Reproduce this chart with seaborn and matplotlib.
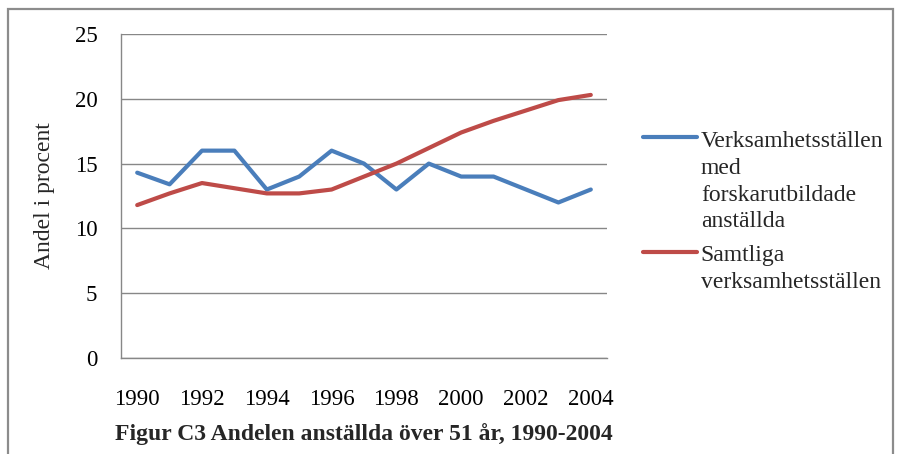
import numpy as np
import pandas as pd
import matplotlib
matplotlib.use("Agg")
import matplotlib.pyplot as plt
from matplotlib.legend_handler import HandlerLine2D
from matplotlib.patches import Rectangle
import seaborn as sns

# Data
years = list(range(1990, 2005))
forskar = [14.3, 13.4, 16.0, 16.0, 13.0, 14.0, 16.0, 15.0, 13.0, 15.0, 14.0, 14.0, 13.0, 12.0, 13.0]
samtliga = [11.8, 12.7, 13.5, 13.1, 12.7, 12.7, 13.0, 14.0, 15.0, 16.2, 17.4, 18.3, 19.1, 19.9, 20.3]
series_names = ["Verksamhetsställen\nmed\nforskarutbildade\nanställda",
                "Samtliga\nverksamhetsställen"]
series_colors = ["#4A7EBB", "#BE4B48"]
yticks = [0, 5, 10, 15, 20, 25]
xtick_years = list(range(1990, 2005, 2))
ylabel = "Andel i procent"
caption = "Figur C3 Andelen anställda över 51 år, 1990-2004"

df = pd.DataFrame({
    "År": years * 2,
    "Andel": forskar + samtliga,
    "Serie": [series_names[0]] * len(years) + [series_names[1]] * len(years),
})

sns.set_theme(style="white")
plt.rcParams["font.family"] = ["Liberation Serif", "DejaVu Serif"]

W, H = 897, 454
fig = plt.figure(figsize=(W / 100, H / 100), dpi=100)
ax = fig.add_axes([121 / W, 1 - 358 / H, (607 - 121) / W, (358 - 34) / H])

sns.lineplot(data=df, x="År", y="Andel", hue="Serie", hue_order=series_names,
             palette=series_colors, linewidth=3.0, ax=ax, legend=False)

grid_c = "#878787"
tick_fs = 16.5
ax.set_xlim(1989.5, 2004.5)
ax.set_ylim(0, 25)
ax.set_yticks(yticks)
ax.set_xticks(xtick_years)
ax.set_xticklabels([str(y) for y in xtick_years])
ax.yaxis.grid(True, color=grid_c, linewidth=1.0)
ax.xaxis.grid(False)
ax.set_axisbelow(True)
for side in ["top", "right"]:
    ax.spines[side].set_visible(False)
for side in ["left", "bottom"]:
    ax.spines[side].set_color(grid_c)
    ax.spines[side].set_linewidth(1.0)
ax.tick_params(axis="both", length=0, labelsize=tick_fs, colors="black")
ax.tick_params(axis="y", pad=17)
ax.tick_params(axis="x", pad=22)
ax.set_xlabel("")
ax.set_ylabel(ylabel, fontsize=17, labelpad=14)


class TopAlignedLine(HandlerLine2D):
    """Line handle placed level with the first line of a multi-line label."""

    def __init__(self, nlines, step, lift=0.0, **kw):
        super().__init__(**kw)
        self.nlines = nlines
        self.step = step      # distance between text lines, in units of fontsize
        self.lift = lift      # extra upward offset, in units of fontsize

    def create_artists(self, legend, orig_handle, xdescent, ydescent,
                       width, height, fontsize, trans):
        arts = super().create_artists(legend, orig_handle, xdescent, ydescent,
                                      width, height, fontsize, trans)
        shift = ((self.nlines - 1) / 2 * self.step + self.lift) * fontsize
        for a in arts:
            a.set_ydata(np.asarray(a.get_ydata()) + shift)
        return arts


lines = ax.get_lines()[:2]
spacing = 1.36
line_step = spacing * 0.865
hmap = {ln: TopAlignedLine(name.count("\n") + 1, line_step, lift=0.12)
        for ln, name in zip(lines, series_names)}
leg = ax.legend(lines, series_names, handler_map=hmap, frameon=False,
                loc="upper left", bbox_to_anchor=(643 / W, 1 - 131 / H),
                bbox_transform=fig.transFigure, fontsize=17,
                handlelength=2.3, handletextpad=0.15, labelspacing=0.55,
                borderpad=0, borderaxespad=0)
for t in leg.get_texts():
    t.set_linespacing(spacing)
for ln in leg.get_lines():
    ln.set_linewidth(3.0)

fig.text(364 / W, 1 - 434 / H, caption, ha="center", va="center",
         fontsize=17, fontweight="bold")

fig.add_artist(Rectangle((8 / W, -0.1), (893 - 8) / W, 1.1 - 9 / H,
                         transform=fig.transFigure, fill=False,
                         edgecolor="#8c8c8c", linewidth=1.6))

fig.savefig("out.png", dpi=100)
